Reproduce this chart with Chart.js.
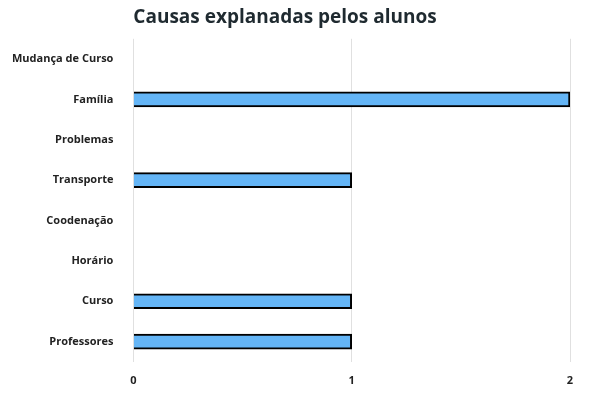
<!DOCTYPE html>
<html>
<head>
<meta charset="utf-8">
<script src="https://cdn.jsdelivr.net/npm/chart.js@4"></script>
<style>
  html, body { margin: 0; padding: 0; background: #fff; }
  #wrap { width: 612px; height: 401px; }
</style>
</head>
<body>
<div id="wrap"><canvas id="chart"></canvas></div>
<script>
// Chart data
const categories = ['Mudança de Curso', 'Família', 'Problemas', 'Transporte', 'Coodenação', 'Horário', 'Curso', 'Professores'];
const counts = [0, 2, 0, 1, 0, 0, 1, 1];
const xTicks = [0, 1, 2];

new Chart(document.getElementById('chart'), {
    type: 'bar',
    data: {
        labels: categories,
        datasets: [{
            data: counts,
            backgroundColor: '#64b5f6',
            borderColor: '#000',
            borderWidth: 2,
            barThickness: 15
        }]
    },
    options: {
        indexAxis: 'y',
        responsive: true,
        maintainAspectRatio: false,
        animation: false,
        layout: { padding: { top: 6, right: 42, bottom: 2, left: 0 } },
        plugins: {
            legend: { display: false },
            tooltip: { enabled: false },
            title: {
                display: true,
                text: 'Causas explanadas pelos alunos',
                color: '#1f2a30',
                font: { family: 'Open Sans', size: 19, weight: 'bold' },
                padding: { top: 0, bottom: 10 }
            }
        },
        scales: {
            x: {
                min: 0, max: 2,
                afterBuildTicks: axis => { axis.ticks = xTicks.map(v => ({ value: v })); },
                grid: { color: '#e0e0e0', drawTicks: false },
                border: { display: false },
                ticks: { color: '#222', font: { family: 'Open Sans', size: 11, weight: 'bold' }, padding: 12 }
            },
            y: {
                grid: { display: false },
                border: { display: false },
                ticks: { color: '#222', font: { family: 'Open Sans', size: 11, weight: 'bold' }, padding: 12 }
            }
        }
    }
});
</script>
</body>
</html>
